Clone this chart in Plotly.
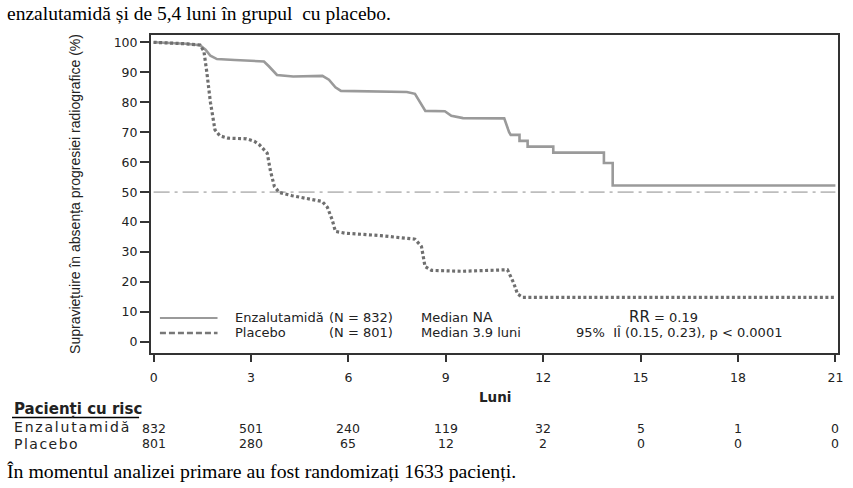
import plotly.graph_objects as go

# ---------------- data ----------------
enz_t = [0, 0.5, 1.0, 1.43, 1.6, 1.75, 1.95, 2.5, 3.0, 3.4, 3.55, 3.8, 4.3, 5.0, 5.2, 5.4, 5.6, 5.77,
         6.5, 7.14, 7.3, 7.8, 8.05, 8.2, 8.37, 8.97, 9.17, 9.53, 10.8, 10.95, 11.0, 11.27, 11.27, 11.52,
         11.52, 12.31, 12.31, 13.87, 13.87, 14.14, 14.14, 21]
enz_s = [100, 99.8, 99.5, 99.0, 97.5, 95.5, 94.4, 94.1, 93.9, 93.6, 92.0, 89.1, 88.6, 88.6, 88.8, 87.5, 85.0, 83.8,
         83.6, 83.6, 83.4, 83.4, 82.8, 80.0, 77.1, 77.0, 75.5, 74.7, 74.6, 70.0, 69.1, 69.1, 67.1, 67.1,
         65.2, 65.2, 63.2, 63.2, 59.7, 59.7, 52.2, 52.2]

plc_t = [0, 0.5, 1.0, 1.43, 1.55, 1.64, 1.75, 1.89, 2.04, 2.3, 2.86, 3.1, 3.26, 3.5, 3.6, 3.72, 3.87, 4.27,
         4.8, 5.19, 5.35, 5.5, 5.6, 5.9, 7.0, 8.05, 8.25, 8.36, 8.56, 9.5, 10.9, 11.09, 11.21, 11.37, 21]
plc_s = [100, 99.8, 99.5, 99.1, 97.0, 90.0, 80.0, 70.8, 68.8, 68.0, 67.8, 67.0, 65.8, 63.0, 57.0, 51.9, 49.9, 48.8,
         47.8, 46.9, 45.0, 40.8, 36.9, 36.3, 35.5, 34.3, 31.9, 25.2, 23.9, 23.6, 24.1, 19.7, 16.0, 14.9, 14.9]

x_ticks = [0, 3, 6, 9, 12, 15, 18, 21]
y_ticks = [0, 10, 20, 30, 40, 50, 60, 70, 80, 90, 100]
risk_enz = [832, 501, 240, 119, 32, 5, 1, 0]
risk_plc = [801, 280, 65, 12, 2, 0, 0, 0]
median_line = 50

title_text = "enzalutamidă și de 5,4 luni în grupul  cu placebo."
foot_text = "În momentul analizei primare au fost randomizați 1633 pacienți."
ytitle = "Supraviețuire în absența progresiei radiografice (%)"

# ---------------- layout geometry ----------------
W, H = 853, 488
L, R, T, B = 151, 10, 35, 135
PW, PH = W - L - R, H - T - B

def px(x):
    return (x - L) / PW

def py(y):
    return (H - B - y) / PH

SANS = "DejaVu Sans"
SERIF = "Liberation Serif, Times New Roman, serif"
TXT = "#222222"

fig = go.Figure()

fig.add_trace(go.Scatter(x=[x_ticks[0], x_ticks[-1]], y=[median_line, median_line], mode="lines",
                         line=dict(color="#bdbdbd", width=1.6, dash="16px,5px,3px,5px"),
                         hoverinfo="skip", showlegend=False))
fig.add_trace(go.Scatter(x=enz_t, y=enz_s, mode="lines",
                         line=dict(color="#9a9a9a", width=2.6), showlegend=False))
fig.add_trace(go.Scatter(x=plc_t, y=plc_s, mode="lines",
                         line=dict(color="#6f6f6f", width=3.2, dash="3px,2.5px"), showlegend=False))

annotations = []

def ann(text, x, y, size, anchor="left", family=SANS, color=TXT, xref="paper", yanchor="middle"):
    annotations.append(dict(text=text, x=x, y=y, xref=xref, yref="paper", showarrow=False,
                            xanchor=anchor, yanchor=yanchor,
                            font=dict(family=family, size=size, color=color)))

# top text & footnote
ann(title_text, px(4), py(13), 19.5, family=SERIF, color="#000")
ann(foot_text, px(4), py(471), 19.8, family=SERIF, color="#000")

# in-plot legend
ann("Enzalutamidă", px(234), py(317), 13)
ann("(N = 832)", px(328), py(317), 13)
ann("Placebo", px(234), py(332), 13)
ann("(N = 801)", px(328), py(332), 13)
ann("Median <span style='font-size:14px'>NA</span>", px(421), py(317), 13)
ann("Median 3.9 luni", px(421), py(332), 13)
ann("<span style='font-size:15px'>RR</span> = 0.19", px(630), py(317), 13)
ann("95%  IÎ (0.15, 0.23), p < 0.0001", px(577), py(332), 13)

# x title
ann("<b>Luni</b>", 0.5, py(397), 13.5, anchor="center")

# risk table
ann("<b>Pacienți cu risc</b>", px(11), py(409), 15)
ann("<span style='letter-spacing:1.8px'>Enzalutamidă</span>", px(11), py(426.5), 14)
ann("<span style='letter-spacing:1.5px'>Placebo</span>", px(11), py(443.5), 14)
for xv, a, b in zip(x_ticks, risk_enz, risk_plc):
    annotations.append(dict(text=str(a), x=xv, y=py(428), xref="x", yref="paper", showarrow=False,
                            xanchor="center", yanchor="middle", font=dict(family=SANS, size=12.5, color=TXT)))
    annotations.append(dict(text=str(b), x=xv, y=py(443), xref="x", yref="paper", showarrow=False,
                            xanchor="center", yanchor="middle", font=dict(family=SANS, size=12.5, color=TXT)))

shapes = [
    # legend samples
    dict(type="line", xref="paper", yref="paper", x0=px(160), x1=px(218), y0=py(318), y1=py(318),
         line=dict(color="#9a9a9a", width=2)),
    dict(type="line", xref="paper", yref="paper", x0=px(160), x1=px(218), y0=py(333), y1=py(333),
         line=dict(color="#777777", width=2.5, dash="6px,3px")),
    # underline of header
    dict(type="line", xref="paper", yref="paper", x0=px(11), x1=px(139), y0=py(417.5), y1=py(417.5),
         line=dict(color="#000", width=1.4)),
]

fig.update_layout(
    width=W, height=H,
    margin=dict(l=L, r=R, t=T, b=B, pad=0),
    paper_bgcolor="white", plot_bgcolor="white",
    annotations=annotations, shapes=shapes,
    xaxis=dict(range=[-0.08, 21.08], tickvals=x_ticks, ticks="outside", ticklen=7, tickwidth=2,
               tickcolor="#333", showline=True, linecolor="#333", linewidth=2, mirror=True,
               showgrid=False, zeroline=False, ticklabelstandoff=5,
               tickfont=dict(family=SANS, size=12.5, color=TXT)),
    yaxis=dict(range=[-3.67, 102.43], tickvals=y_ticks, ticks="outside", ticklen=9, tickwidth=1.5,
               tickcolor="#333", showline=True, linecolor="#333", linewidth=2, mirror=True,
               showgrid=False, zeroline=False,
               tickfont=dict(family=SANS, size=12.5, color=TXT),
               title=dict(text=ytitle, font=dict(family="Liberation Sans, Arial", size=14, color=TXT),
                          standoff=30)),
)

fig.write_html("out.html")
